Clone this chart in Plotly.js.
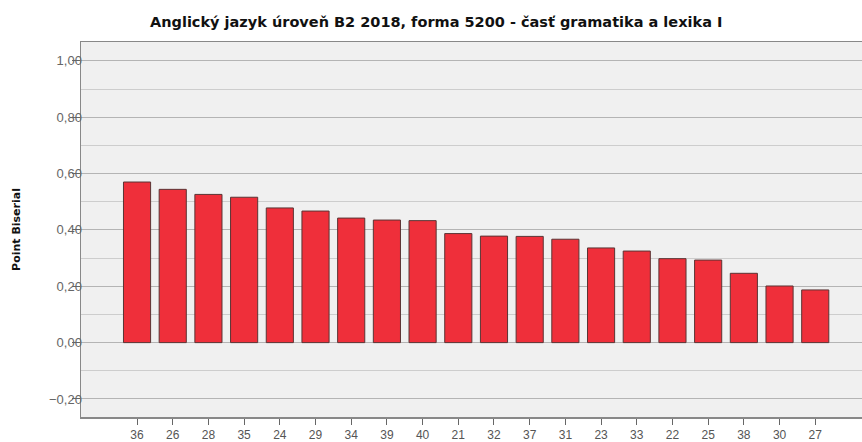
<!DOCTYPE html>
<html>
<head>
<meta charset="utf-8">
<script src="https://cdn.plot.ly/plotly-3.0.1.min.js"></script>
<style>
  body { margin: 0; background: #fff; }
  #chart { width: 862px; height: 442px; }
</style>
</head>
<body>
<div id="chart"></div>
<script>
const items = ["36", "26", "28", "35", "24", "29", "34", "39", "40", "21",
  "32", "37", "31", "23", "33", "22", "25", "38", "30", "27"];
const pointBiserial = [0.570, 0.544, 0.526, 0.516, 0.478, 0.467, 0.442, 0.435, 0.433, 0.387,
  0.378, 0.377, 0.367, 0.336, 0.325, 0.298, 0.293, 0.246, 0.201, 0.187];

const trace = {
  x: items,
  y: pointBiserial,
  type: "bar",
  marker: {
    color: "#ef2f3a",
    line: { color: "#5a3434", width: 1 },
  },
  hoverinfo: "x+y",
};

const layout = {
  width: 862,
  height: 442,
  margin: { l: 81, r: 0, t: 42, b: 25 },
  paper_bgcolor: "#ffffff",
  plot_bgcolor: "#f0f0f0",
  separators: ",.",
  bargap: 0.24,
  showlegend: false,
  font: { family: "Liberation Sans, Arial, sans-serif", size: 12, color: "#555555" },
  title: {
    text: "<b>Anglický jazyk úroveň B2 2018, forma 5200 - časť gramatika a lexika I</b>",
    x: 0.506,
    xanchor: "center",
    y: 0.95,
    yanchor: "middle",
    font: { family: "DejaVu Sans, sans-serif", size: 14.5, color: "#111111" },
  },
  xaxis: {
    type: "category",
    range: [-1.57, 20.31],
    ticks: "outside",
    ticklen: 6,
    tickcolor: "#666666",
    showline: true,
    linecolor: "#888888",
    linewidth: 1.5,
    mirror: true,
    showgrid: false,
    tickfont: { size: 12, color: "#555555" },
  },
  yaxis: {
    range: [-0.264, 1.067],
    dtick: 0.2,
    tick0: 0,
    tickformat: ".2f",
    ticks: "outside",
    ticklen: 8,
    tickcolor: "#666666",
    ticklabelstandoff: -13,
    showline: true,
    linecolor: "#888888",
    linewidth: 1.5,
    gridcolor: "#b4b4b4",
    gridwidth: 1,
    zeroline: false,
    minor: { dtick: 0.1, showgrid: true, gridcolor: "#cdcdcd", gridwidth: 1 },
    tickfont: { size: 13, color: "#666666" },
    title: {
      text: "<b>Point Biserial</b>",
      standoff: 26,
      font: { family: "DejaVu Sans, sans-serif", size: 11, color: "#111111" },
    },
  },
};

Plotly.newPlot("chart", [trace], layout, { displayModeBar: false, staticPlot: true });
</script>
</body>
</html>
